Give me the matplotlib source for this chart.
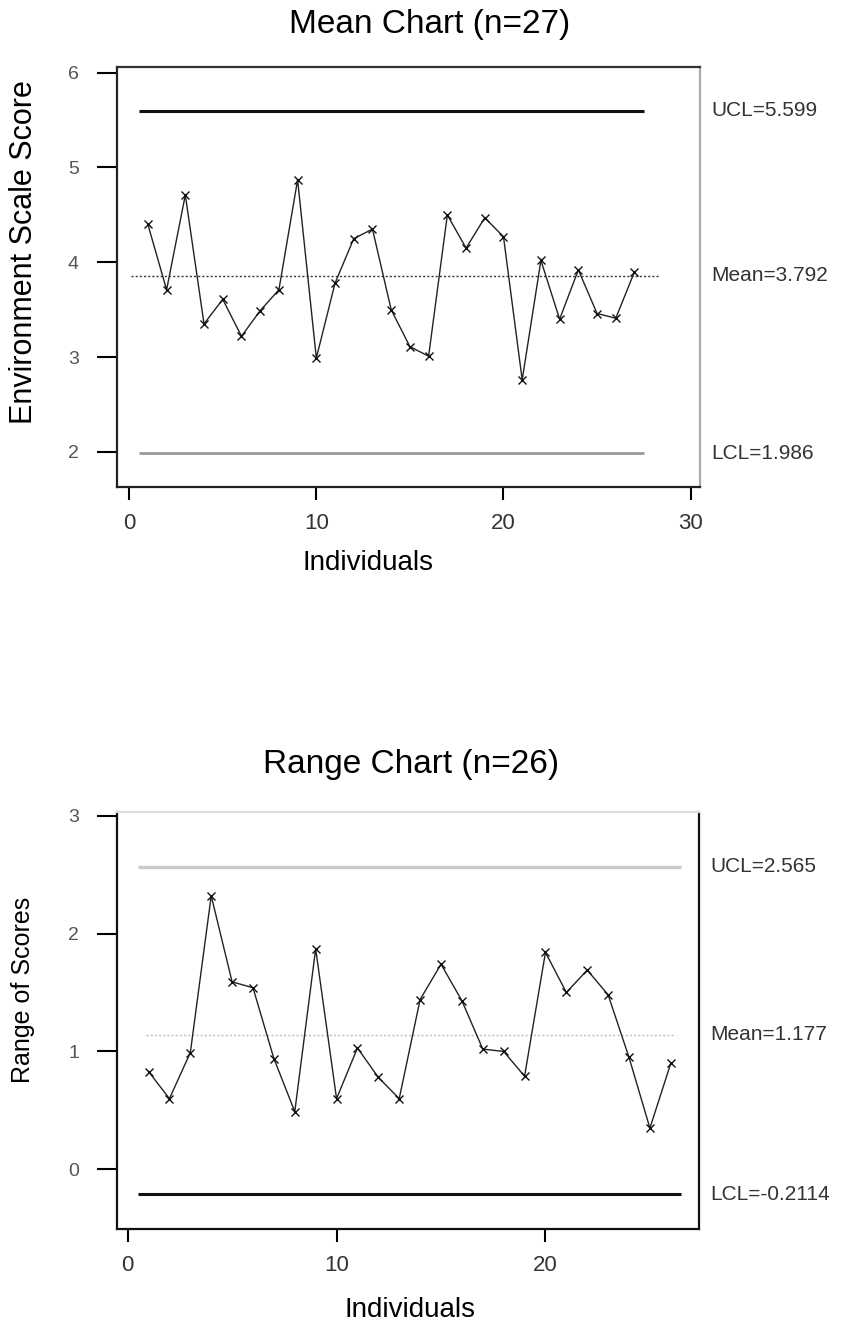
import matplotlib
matplotlib.use('Agg')
import matplotlib.pyplot as plt
import matplotlib.transforms as mtransforms

plt.rcParams['font.family'] = ['Liberation Sans', 'DejaVu Sans']

W, H = 841, 1331

# Mean chart (n=27)
mean_individuals = list(range(1, 28))
mean_scores = [4.40, 3.71, 4.71, 3.35, 3.61, 3.22, 3.49, 3.71, 4.87, 2.99,
               3.78, 4.25, 4.35, 3.50, 3.11, 3.01, 4.50, 4.15, 4.47, 4.27,
               2.76, 4.02, 3.40, 3.92, 3.46, 3.41, 3.90]
mean_ucl, mean_center, mean_lcl = 5.599, 3.86, 1.986
mean_labels = ['UCL=5.599', 'Mean=3.792', 'LCL=1.986']

# Range chart (n=26)
range_individuals = list(range(1, 27))
range_scores = [0.83, 0.60, 0.99, 2.32, 1.59, 1.54, 0.94, 0.49, 1.87, 0.60,
                1.03, 0.78, 0.60, 1.44, 1.74, 1.43, 1.02, 1.00, 0.79, 1.84,
                1.50, 1.69, 1.48, 0.95, 0.35, 0.90]
range_ucl, range_center, range_lcl = 2.565, 1.14, -0.2114
range_labels = ['UCL=2.565', 'Mean=1.177', 'LCL=-0.2114']


def px(x, y):
    return x / W, 1 - y / H


def styleAxes(ax, spine_colors, ytick_colors, xtick_colors):
    for side, col in spine_colors.items():
        ax.spines[side].set_color(col)
        ax.spines[side].set_linewidth(1.6)
    ax.tick_params(axis='y', length=14.4, width=1.5, pad=13, labelsize=14, labelcolor='#555555')
    ax.tick_params(axis='x', length=9.4, width=1.5, pad=9, labelsize=16, labelcolor='#333333')
    for tick, col in zip(ax.yaxis.get_major_ticks(), ytick_colors):
        tick.tick1line.set_color(col)
    for tick, col in zip(ax.xaxis.get_major_ticks(), xtick_colors):
        tick.tick1line.set_color(col)


def controlChart(ax, xs, ys, ucl, center, lcl, labels, ucl_style, center_style, lcl_style,
                 limit_span, center_span):
    ax.hlines(ucl, limit_span[0], limit_span[1], **ucl_style)
    ax.hlines(center, center_span[0], center_span[1], **center_style)
    ax.hlines(lcl, limit_span[0], limit_span[1], **lcl_style)
    ax.plot(xs, ys, color='#222222', lw=1.0, marker='x', markersize=6, mew=1.0, mec='#111111')
    trans = mtransforms.blended_transform_factory(ax.transAxes, ax.transData)
    for val, lab in zip([ucl, center, lcl], labels):
        ax.text(1.02, val, lab, transform=trans, ha='left', va='center',
                fontsize=15, color='#333333')


fig = plt.figure(figsize=(W / 100, H / 100), dpi=100)

# top: mean chart
l, b = px(117, 487)
ax1 = fig.add_axes([l, b, 583 / W, 420 / H])
controlChart(ax1, mean_individuals, mean_scores, mean_ucl, mean_center, mean_lcl, mean_labels,
             dict(color='#111111', lw=2.2),
             dict(color='#333333', lw=1.0, linestyles=(0, (1.5, 1.5))),
             dict(color='#999999', lw=2.0),
             (0.5, 27.5), (0.1, 28.3))
ax1.set_xlim(-0.65, 30.5)
ax1.set_ylim(1.63, 6.06)
ax1.set_xticks([0, 10, 20, 30])
ax1.set_yticks([2, 3, 4, 5, 6])
styleAxes(ax1, {'left': '#222222', 'top': '#333333', 'right': '#aaaaaa', 'bottom': '#222222'},
          ['#222222', '#222222', '#222222', '#333333', '#888888'],
          ['#222222', '#777777', '#aaaaaa', '#222222'])

fig.text(*px(430, 24), 'Mean Chart (n=27)', ha='center', va='center', fontsize=24)
fig.text(*px(24, 252), 'Environment Scale Score', rotation=90, ha='center', va='center', fontsize=22)
fig.text(*px(368, 563), 'Individuals', ha='center', va='center', fontsize=20)

# bottom: range chart
l, b = px(117, 1229)
ax2 = fig.add_axes([l, b, 582 / W, 417 / H])
controlChart(ax2, range_individuals, range_scores, range_ucl, range_center, range_lcl, range_labels,
             dict(color='#cccccc', lw=2.5),
             dict(color='#bbbbbb', lw=1.0, linestyles=(0, (1.5, 1.5))),
             dict(color='#111111', lw=2.2),
             (0.5, 26.5), (0.9, 26.1))
ax2.set_xlim(-0.51, 27.35)
ax2.set_ylim(-0.505, 3.03)
ax2.set_xticks([0, 10, 20])
ax2.set_yticks([0, 1, 2, 3])
styleAxes(ax2, {'left': '#111111', 'top': '#dddddd', 'right': '#111111', 'bottom': '#111111'},
          ['#bbbbbb', '#111111', '#bbbbbb', '#111111'],
          ['#555555', '#777777', '#222222'])

fig.text(*px(411, 764), 'Range Chart (n=26)', ha='center', va='center', fontsize=24)
fig.text(*px(23, 990), 'Range of Scores', rotation=90, ha='center', va='center', fontsize=18)
fig.text(*px(410, 1310), 'Individuals', ha='center', va='center', fontsize=20)

fig.savefig('out.png', dpi=100, facecolor='white')
